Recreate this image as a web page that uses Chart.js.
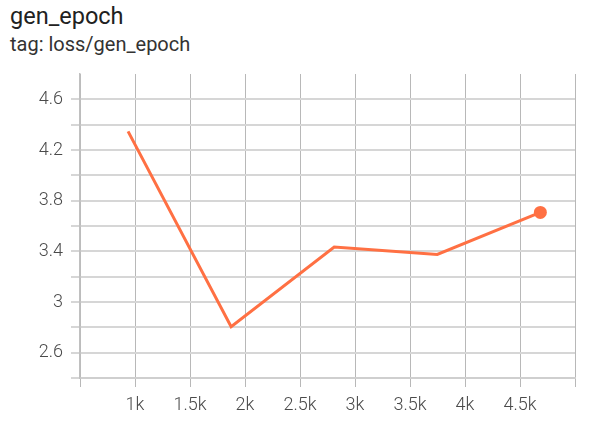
<!DOCTYPE html>
<html>
<head>
<meta charset="utf-8">
<script src="https://cdn.jsdelivr.net/npm/chart.js@4/dist/chart.umd.min.js"></script>
<style>
  html, body { margin: 0; padding: 0; background: #fff; }
  body { width: 596px; height: 421px; position: relative; overflow: hidden; font-family: Roboto, sans-serif; }
  #title { position: absolute; left: 10px; top: 0px; font-size: 23.5px; color: #212121; line-height: 32px; }
  #tag { position: absolute; left: 10px; top: 31px; font-size: 20px; color: #333; line-height: 26px; }
  #wrap { position: absolute; left: 0; top: 0; width: 596px; height: 421px; }
</style>
</head>
<body>
<div id="title">gen_epoch</div>
<div id="tag">tag: loss/gen_epoch</div>
<div id="wrap"><canvas id="chart"></canvas></div>
<script>
// step / value pairs
const steps = [937, 1874, 2811, 3748, 4685];
const values = [4.347, 2.805, 3.434, 3.376, 3.707];
const yLabels = [2.6, 3, 3.4, 3.8, 4.2, 4.6];

const points = steps.map((s, i) => ({ x: s, y: values[i] }));
const lineColor = '#ff7043';

function fmtStep(v) {
  if (v <= 500 || v >= 5000) return '';
  return (v / 1000) + 'k';
}

new Chart(document.getElementById('chart'), {
  type: 'scatter',
  data: {
    datasets: [{
      data: points,
      showLine: true,
      borderColor: lineColor,
      backgroundColor: lineColor,
      borderWidth: 3,
      pointRadius: points.map((p, i) => i === points.length - 1 ? 6.5 : 0),
      pointBorderWidth: 0,
      tension: 0
    }]
  },
  options: {
    responsive: true,
    maintainAspectRatio: false,
    animation: false,
    layout: { padding: { top: 74, right: 21, left: 0, bottom: 0 } },
    plugins: { legend: { display: false }, tooltip: { enabled: false } },
    scales: {
      x: {
        type: 'linear',
        min: 500,
        max: 5000,
        afterFit: s => { s.height = 43; },
        ticks: {
          stepSize: 500,
          color: '#4a4a4a',
          font: { family: 'Roboto', size: 18, weight: 300 },
          padding: 8,
          maxRotation: 0,
          autoSkip: false,
          callback: v => fmtStep(v)
        },
        grid: {
          color: '#b8b8b8',
          lineWidth: 1,
          tickLength: 9
        },
        border: { color: '#cfcfcf', width: 2 }
      },
      y: {
        min: 2.4,
        max: 4.8,
        afterFit: s => { s.width = 80; },
        ticks: {
          stepSize: 0.2,
          color: '#4a4a4a',
          font: { family: 'Roboto', size: 18, weight: 300 },
          padding: 8,
          autoSkip: false,
          callback: v => {
            const r = Math.round(v * 10) / 10;
            return yLabels.some(l => Math.abs(l - r) < 1e-6) ? String(r) : '';
          }
        },
        grid: {
          color: ctx => (ctx.tick && Math.abs(ctx.tick.value - 4.8) < 1e-6) ? 'rgba(0,0,0,0)' : '#d6d6d6',
          lineWidth: 2,
          tickLength: 9
        },
        border: { color: '#c0c0c0', width: 1.5 }
      }
    }
  }
});
</script>
</body>
</html>
